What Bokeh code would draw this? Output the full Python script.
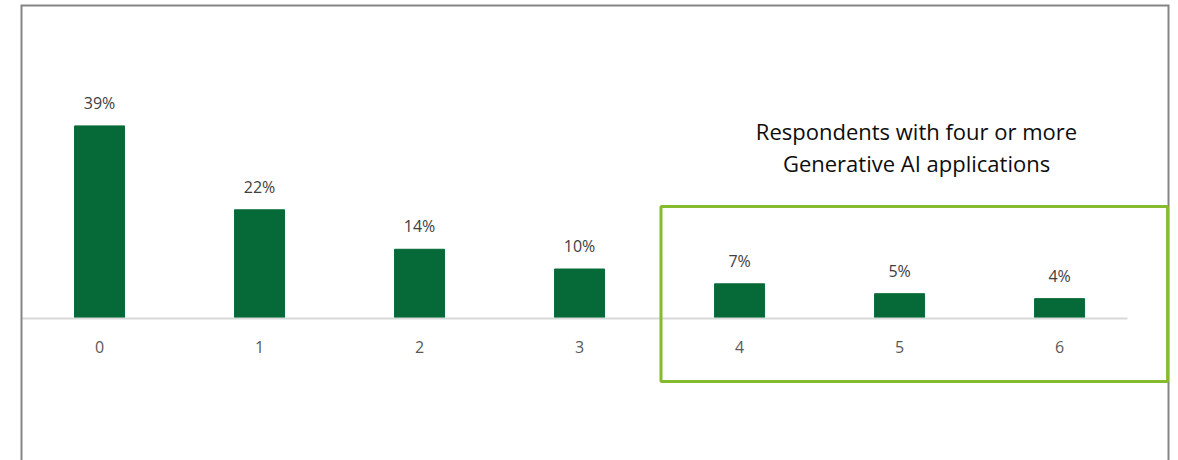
from bokeh.plotting import figure
from bokeh.models import ColumnDataSource, LabelSet, Label, BoxAnnotation, Range1d, FixedTicker
from bokeh.core.properties import value
from bokeh.embed import file_html
from bokeh.resources import INLINE

categories = [0, 1, 2, 3, 4, 5, 6]
tick_labels = ["0", "1", "2", "3", "4", "5", "6"]
shares = [39, 22, 14, 10, 7, 5, 4]
share_labels = ["39%", "22%", "14%", "10%", "7%", "5%", "4%"]
note_lines = ["Respondents with four or more", "Generative AI applications"]

src = ColumnDataSource(dict(x=categories, top=shares, label=share_labels))

X0, X1 = -0.494, 6.687
Y0, Y1 = -28.8, 63.6
p = figure(width=1178, height=460, output_backend="svg", toolbar_location=None,
           x_range=Range1d(X0, X1), y_range=Range1d(Y0, Y1),
           min_border_left=20, min_border_right=9, min_border_top=4, min_border_bottom=0)
p.background_fill_color = "white"
p.border_fill_color = "white"
p.outline_line_color = None
p.grid.visible = False
p.yaxis.visible = False

# outer chart border (top, left, right; bottom lies below the visible area)
frame_border = BoxAnnotation(left=X0, right=X1, top=Y1, bottom=Y0 - 30,
                             fill_color=None, fill_alpha=0, line_color="#858585",
                             line_alpha=1.0, line_width=4)
p.add_layout(frame_border)

p.vbar(x="x", top="top", bottom=0, width=0.3125, source=src,
       fill_color="#066a38", line_color="#066a38")

labels = LabelSet(x="x", y="top", text="label", source=src, y_offset=17,
                  text_align="center", text_baseline="alphabetic",
                  text_font=value("Open Sans"), text_font_size="16px", text_color="#404040")
p.add_layout(labels)

xa = p.xaxis[0]
xa.fixed_location = 0
xa.bounds = (X0, 6.425)
xa.ticker = FixedTicker(ticks=categories)
xa.major_label_overrides = {c: t for c, t in zip(categories, tick_labels)}
xa.axis_line_color = "#d9d9d9"
xa.axis_line_width = 2
xa.major_tick_line_color = None
xa.minor_tick_line_color = None
xa.major_label_standoff = 17
xa.major_label_text_font = "Open Sans"
xa.major_label_text_font_size = "16px"
xa.major_label_text_color = "#595959"

box = BoxAnnotation(left=3.509, right=6.675, top=22.66, bottom=-12.8,
                    fill_color=None, fill_alpha=0, line_color="#85bb2f",
                    line_alpha=1.0, line_width=3)
p.add_layout(box)

for i, t in enumerate(note_lines):
    p.add_layout(Label(x=5.106, y=38.0 - i * 6.5, text=t, text_align="center",
                       text_baseline="middle", text_font="Open Sans",
                       text_font_size="22px", text_color="#0d0d0d"))

open("out.html", "w").write(file_html(p, INLINE))
